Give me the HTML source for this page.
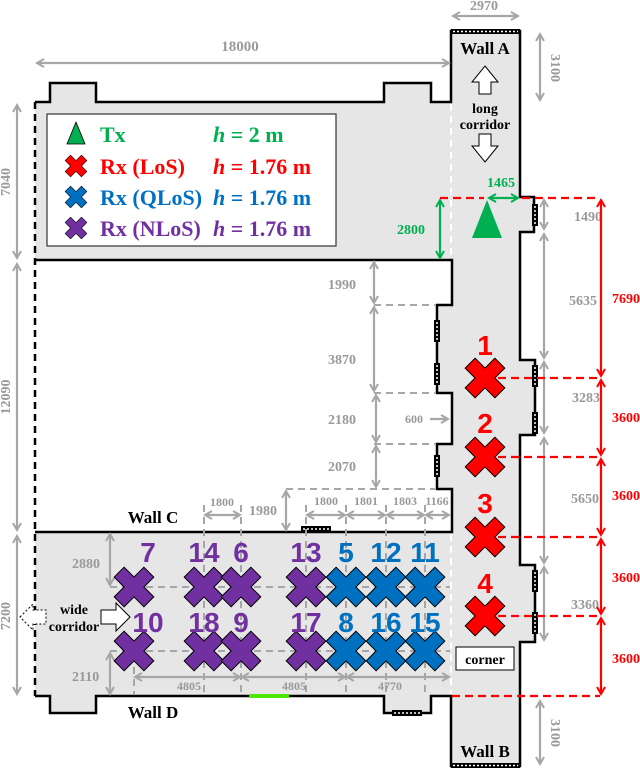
<!DOCTYPE html>
<html><head><meta charset="utf-8"><style>
html,body{margin:0;padding:0;background:#fff;}
svg{display:block;}
.g{font-family:"Liberation Serif",serif;font-weight:bold;fill:#999;font-size:14px;}
.n{font-family:"Liberation Sans",sans-serif;font-weight:bold;font-size:28px;text-anchor:middle;}
.lg{font-family:"Liberation Serif",serif;font-weight:bold;font-size:22px;}
.bk{font-family:"Liberation Serif",serif;font-weight:bold;fill:#000;}
</style></head><body>
<svg width="640" height="769" viewBox="0 0 640 769" xmlns="http://www.w3.org/2000/svg">
<defs>
<marker id="ga" markerWidth="10" markerHeight="10" refX="8" refY="5" orient="auto-start-reverse" markerUnits="userSpaceOnUse"><path d="M1,1 L8,5 L1,9" fill="none" stroke="#a6a6a6" stroke-width="2"/></marker>
<marker id="gr" markerWidth="10" markerHeight="10" refX="8" refY="5" orient="auto-start-reverse" markerUnits="userSpaceOnUse"><path d="M1,1 L8,5 L1,9" fill="none" stroke="#00b050" stroke-width="2"/></marker>
<marker id="rd" markerWidth="10" markerHeight="10" refX="8" refY="5" orient="auto-start-reverse" markerUnits="userSpaceOnUse"><path d="M1,1 L8,5 L1,9" fill="none" stroke="#ff0000" stroke-width="2"/></marker>
<polygon id="x" points="-7,-21 7,-21 7,-7 21,-7 21,7 7,7 7,21 -7,21 -7,7 -21,7 -21,-7 -7,-7" transform="rotate(45)" stroke="#000" stroke-width="1"/>
<g id="hv"><rect x="-3" y="0" width="6" height="22" fill="#000"/><line x1="0" y1="2" x2="0" y2="20" stroke="#fff" stroke-width="1.5" stroke-dasharray="2,2"/></g>
<g id="hh"><rect x="0" y="-3" width="30" height="6" fill="#000"/><line x1="2" y1="0" x2="28" y2="0" stroke="#fff" stroke-width="1.5" stroke-dasharray="2,2"/></g>
</defs>

<g fill="#e6e6e6">
<rect x="35" y="102" width="416" height="158"/>
<rect x="50" y="83" width="46" height="20"/>
<rect x="384" y="83" width="47" height="20"/>
<rect x="451" y="31" width="69" height="735"/>
<rect x="519" y="197" width="15" height="35"/>
<rect x="519" y="360" width="16" height="75"/>
<rect x="519" y="565" width="16" height="77"/>
<rect x="437" y="305" width="15" height="88"/>
<rect x="437" y="444" width="15" height="45"/>
<rect x="35" y="532" width="417" height="164"/>
<rect x="50" y="695" width="46" height="18"/>
<rect x="384" y="695" width="47" height="18"/>
</g>

<path d="M35 102 H50 V83 H96 V102 H384 V83 H431 V102 H451 V31 H520 V197 H534 V232 H520 V360 H535 V435 H520 V565 H535 V642 H520 V766 H451 V696 H431 V713 H384 V696 H96 V713 H50 V696 H35" fill="none" stroke="#000" stroke-width="2.5"/>
<path d="M35 260 H452 V305 H437 V393 H452 V444 H437 V489 H452 V532 H35" fill="none" stroke="#000" stroke-width="2.5"/>
<line x1="35" y1="102" x2="35" y2="696" stroke="#000" stroke-width="2.5" stroke-dasharray="7,5"/>
<line x1="451" y1="104" x2="451" y2="258" stroke="#fff" stroke-width="2" stroke-dasharray="7,5"/>
<line x1="451" y1="534" x2="451" y2="694" stroke="#fff" stroke-width="2" stroke-dasharray="7,5"/>
<rect x="451" y="29" width="69" height="5" fill="#000"/><line x1="453" y1="31.5" x2="518" y2="31.5" stroke="#fff" stroke-width="1.5" stroke-dasharray="2,2"/>
<rect x="451" y="763" width="69" height="5" fill="#000"/><line x1="453" y1="765.5" x2="518" y2="765.5" stroke="#fff" stroke-width="1.5" stroke-dasharray="2,2"/>
<use href="#hh" x="301" y="529"/>
<use href="#hh" x="392" y="713"/>
<use href="#hv" x="535" y="204"/>
<use href="#hv" x="535" y="365"/>
<use href="#hv" x="535" y="412"/>
<use href="#hv" x="535" y="570"/>
<use href="#hv" x="535" y="612"/>
<use href="#hv" x="437" y="320"/>
<use href="#hv" x="437" y="363"/>
<use href="#hv" x="437" y="455"/>
<rect x="249" y="694" width="40" height="4" fill="#4ce600"/>

<text class="bk" x="485" y="54" font-size="17" text-anchor="middle">Wall A</text>
<text class="bk" x="485" y="757" font-size="17" text-anchor="middle">Wall B</text>
<text class="bk" x="153" y="523" font-size="17" text-anchor="middle">Wall C</text>
<text class="bk" x="153" y="718" font-size="17" text-anchor="middle">Wall D</text>

<path d="M485 66 L498 82 L491 82 L491 94 L479 94 L479 82 L472 82 Z" fill="#fff" stroke="#000" stroke-width="1"/>
<text class="bk" x="485" y="113" font-size="14" text-anchor="middle">long</text>
<text class="bk" x="485" y="129" font-size="14" text-anchor="middle">corridor</text>
<path d="M485 162 L498 146 L491 146 L491 134 L479 134 L479 146 L472 146 Z" fill="#fff" stroke="#000" stroke-width="1"/>

<path d="M20 617 L33 604 L33 610 L46 610 L46 624 L33 624 L33 630 Z" fill="#fff" stroke="#000" stroke-width="1" stroke-dasharray="2,2"/>
<text class="bk" x="74" y="614" font-size="14" text-anchor="middle">wide</text>
<text class="bk" x="74" y="631" font-size="14" text-anchor="middle">corridor</text>
<path d="M130 617 L116 603 L116 610 L101 610 L101 624 L116 624 L116 631 Z" fill="#fff" stroke="#000" stroke-width="1"/>
<rect x="456" y="647" width="58" height="23" fill="#fff" stroke="#000" stroke-width="1"/>
<text class="bk" x="485" y="664" font-size="14" text-anchor="middle">corner</text>

<rect x="47" y="114" width="289" height="132" fill="#fff" stroke="#333" stroke-width="1.2"/>
<polygon points="76,122 85,144 67,144" fill="#00b050" stroke="#000" stroke-width="0.8"/>
<use href="#x" x="76" y="166" fill="#ff0000" transform="translate(76 166) scale(0.55) translate(-76 -166)"/>
<use href="#x" x="76" y="197" fill="#0070c0" transform="translate(76 197) scale(0.55) translate(-76 -197)"/>
<use href="#x" x="76" y="228" fill="#7030a0" transform="translate(76 228) scale(0.55) translate(-76 -228)"/>
<text class="lg" x="100" y="142" fill="#00b050">Tx</text>
<text class="lg" x="213" y="142" fill="#00b050"><tspan font-style="italic">h</tspan> = 2 m</text>
<text class="lg" x="100" y="174" fill="#ff0000">Rx (LoS)</text>
<text class="lg" x="213" y="174" fill="#ff0000"><tspan font-style="italic">h</tspan> = 1.76 m</text>
<text class="lg" x="100" y="205" fill="#0070c0">Rx (QLoS)</text>
<text class="lg" x="213" y="205" fill="#0070c0"><tspan font-style="italic">h</tspan> = 1.76 m</text>
<text class="lg" x="100" y="236" fill="#7030a0">Rx (NLoS)</text>
<text class="lg" x="213" y="236" fill="#7030a0"><tspan font-style="italic">h</tspan> = 1.76 m</text>

<g stroke="#a6a6a6" stroke-width="2.2" fill="none">
<line x1="37" y1="63" x2="449" y2="63" marker-start="url(#ga)" marker-end="url(#ga)"/>
<line x1="453" y1="16" x2="518" y2="16" marker-start="url(#ga)" marker-end="url(#ga)"/>
<line x1="540" y1="34" x2="540" y2="100" marker-start="url(#ga)" marker-end="url(#ga)"/>
<line x1="17" y1="105" x2="17" y2="258" marker-start="url(#ga)" marker-end="url(#ga)"/>
<line x1="17" y1="264" x2="17" y2="530" marker-start="url(#ga)" marker-end="url(#ga)"/>
<line x1="17" y1="536" x2="17" y2="694" marker-start="url(#ga)" marker-end="url(#ga)"/>
<line x1="544" y1="200" x2="544" y2="229" marker-start="url(#ga)" marker-end="url(#ga)"/>
<line x1="544" y1="234" x2="544" y2="358" marker-start="url(#ga)" marker-end="url(#ga)"/>
<line x1="544" y1="362" x2="544" y2="433" marker-start="url(#ga)" marker-end="url(#ga)"/>
<line x1="544" y1="438" x2="544" y2="563" marker-start="url(#ga)" marker-end="url(#ga)"/>
<line x1="544" y1="567" x2="544" y2="640" marker-start="url(#ga)" marker-end="url(#ga)"/>
<line x1="540" y1="701" x2="540" y2="764" marker-start="url(#ga)" marker-end="url(#ga)"/>
<line x1="374" y1="262" x2="374" y2="303" marker-start="url(#ga)" marker-end="url(#ga)"/>
<line x1="374" y1="307" x2="374" y2="391" marker-start="url(#ga)" marker-end="url(#ga)"/>
<line x1="376" y1="395" x2="376" y2="442" marker-start="url(#ga)" marker-end="url(#ga)"/>
<line x1="376" y1="446" x2="376" y2="487" marker-start="url(#ga)" marker-end="url(#ga)"/>
<line x1="286" y1="491" x2="286" y2="530" marker-start="url(#ga)" marker-end="url(#ga)"/>
<line x1="430" y1="419" x2="448" y2="419" marker-end="url(#ga)"/>
<line x1="205" y1="515" x2="240" y2="515" marker-start="url(#ga)" marker-end="url(#ga)"/>
<line x1="307" y1="515" x2="345" y2="515" marker-start="url(#ga)" marker-end="url(#ga)"/>
<line x1="347" y1="515" x2="385" y2="515" marker-start="url(#ga)" marker-end="url(#ga)"/>
<line x1="387" y1="515" x2="424" y2="515" marker-start="url(#ga)" marker-end="url(#ga)"/>
<line x1="426" y1="515" x2="449" y2="515" marker-start="url(#ga)" marker-end="url(#ga)"/>
<line x1="110" y1="534" x2="110" y2="585" marker-start="url(#ga)" marker-end="url(#ga)"/>
<line x1="110" y1="653" x2="110" y2="694" marker-start="url(#ga)" marker-end="url(#ga)"/>
<line x1="135" y1="677" x2="240" y2="677" marker-start="url(#ga)" marker-end="url(#ga)"/>
<line x1="242" y1="677" x2="345" y2="677" marker-start="url(#ga)" marker-end="url(#ga)"/>
<line x1="347" y1="677" x2="449" y2="677" marker-start="url(#ga)" marker-end="url(#ga)"/>
</g>
<g stroke="#a6a6a6" stroke-width="2" stroke-dasharray="7,5" fill="none">
<line x1="374" y1="305" x2="435" y2="305"/>
<line x1="374" y1="393" x2="435" y2="393"/>
<line x1="374" y1="444" x2="435" y2="444"/>
<line x1="286" y1="489" x2="435" y2="489"/>
<line x1="110" y1="587" x2="450" y2="587"/>
<line x1="110" y1="651" x2="450" y2="651"/>
<line x1="134" y1="655" x2="134" y2="695"/>
<line x1="204" y1="505" x2="204" y2="695"/>
<line x1="241" y1="505" x2="241" y2="695"/>
<line x1="306" y1="505" x2="306" y2="695"/>
<line x1="346" y1="505" x2="346" y2="695"/>
<line x1="386" y1="505" x2="386" y2="695"/>
<line x1="425" y1="505" x2="425" y2="695"/>
</g>
<g class="g">
<text x="240" y="51" text-anchor="middle" font-size="15">18000</text>
<text x="484" y="10" text-anchor="middle">2970</text>
<text transform="translate(551 68) rotate(90)" text-anchor="middle">3100</text>
<text transform="translate(551 733) rotate(90)" text-anchor="middle">3100</text>
<text transform="translate(10 182) rotate(-90)" text-anchor="middle">7040</text>
<text transform="translate(10 397) rotate(-90)" text-anchor="middle">12090</text>
<text transform="translate(10 616) rotate(-90)" text-anchor="middle">7200</text>
<text x="574" y="221">1490</text>
<text x="569" y="305">5635</text>
<text x="572" y="402">3283</text>
<text x="571" y="503">5650</text>
<text x="571" y="609">3360</text>
<text x="328" y="289">1990</text>
<text x="328" y="364">3870</text>
<text x="328" y="424">2180</text>
<text x="328" y="471">2070</text>
<text x="405" y="423" font-size="12">600</text>
<text x="249" y="515">1980</text>
<text x="222" y="506" text-anchor="middle" font-size="12">1800</text>
<text x="326" y="505" text-anchor="middle" font-size="12">1800</text>
<text x="366" y="505" text-anchor="middle" font-size="12">1801</text>
<text x="405" y="505" text-anchor="middle" font-size="12">1803</text>
<text x="437" y="505" text-anchor="middle" font-size="12">1166</text>
<text x="72" y="568">2880</text>
<text x="72" y="681">2110</text>
<text x="189" y="690" text-anchor="middle" font-size="12">4805</text>
<text x="294" y="690" text-anchor="middle" font-size="12">4805</text>
<text x="390" y="690" text-anchor="middle" font-size="12">4770</text>
</g>

<polygon points="487,200 502,238 472,238" fill="#00b050"/>
<line x1="489" y1="198" x2="518" y2="198" stroke="#00b050" stroke-width="2.2" marker-start="url(#gr)" marker-end="url(#gr)"/>
<line x1="440" y1="200" x2="440" y2="258" stroke="#00b050" stroke-width="2.2" marker-start="url(#gr)" marker-end="url(#gr)"/>
<text class="g" x="501" y="187" text-anchor="middle" style="fill:#00b050">1465</text>
<text class="g" x="397" y="234" style="fill:#00b050">2800</text>

<g stroke="#ff0000" stroke-width="2.2" stroke-dasharray="8,5" fill="none">
<line x1="440" y1="198" x2="484" y2="198"/>
<line x1="522" y1="198" x2="600" y2="198"/>
<line x1="485" y1="378" x2="600" y2="378"/>
<line x1="485" y1="457" x2="600" y2="457"/>
<line x1="485" y1="537" x2="600" y2="537"/>
<line x1="485" y1="616" x2="600" y2="616"/>
<line x1="452" y1="696" x2="600" y2="696"/>
</g>
<g stroke="#ff0000" stroke-width="2.2" fill="none">
<line x1="601" y1="200" x2="601" y2="376" marker-start="url(#rd)" marker-end="url(#rd)"/>
<line x1="601" y1="380" x2="601" y2="455" marker-start="url(#rd)" marker-end="url(#rd)"/>
<line x1="601" y1="459" x2="601" y2="535" marker-start="url(#rd)" marker-end="url(#rd)"/>
<line x1="601" y1="539" x2="601" y2="614" marker-start="url(#rd)" marker-end="url(#rd)"/>
<line x1="601" y1="618" x2="601" y2="694" marker-start="url(#rd)" marker-end="url(#rd)"/>
</g>
<g class="g" style="fill:#ff0000">
<text x="612" y="303">7690</text>
<text x="612" y="422">3600</text>
<text x="612" y="500">3600</text>
<text x="612" y="582">3600</text>
<text x="612" y="663">3600</text>
</g>

<g fill="#ff0000">
<use href="#x" x="485" y="378"/><use href="#x" x="485" y="457"/><use href="#x" x="485" y="537"/><use href="#x" x="485" y="616"/>
</g>
<g class="n" fill="#ff0000">
<text x="485" y="355">1</text><text x="485" y="433">2</text><text x="485" y="513">3</text><text x="485" y="593">4</text>
</g>
<g fill="#7030a0">
<use href="#x" x="134" y="587"/><use href="#x" x="204" y="587"/><use href="#x" x="241" y="587"/><use href="#x" x="306" y="587"/>
<use href="#x" x="134" y="651"/><use href="#x" x="204" y="651"/><use href="#x" x="241" y="651"/><use href="#x" x="306" y="651"/>
</g>
<g fill="#0070c0">
<use href="#x" x="346" y="587"/><use href="#x" x="386" y="587"/><use href="#x" x="425" y="587"/>
<use href="#x" x="346" y="651"/><use href="#x" x="386" y="651"/><use href="#x" x="425" y="651"/>
</g>
<g class="n" fill="#7030a0">
<text x="148" y="562">7</text><text x="204" y="562">14</text><text x="241" y="562">6</text><text x="306" y="562">13</text>
<text x="148" y="632">10</text><text x="204" y="632">18</text><text x="241" y="632">9</text><text x="306" y="632">17</text>
</g>
<g class="n" fill="#0070c0">
<text x="346" y="562">5</text><text x="386" y="562">12</text><text x="425" y="562">11</text>
<text x="346" y="632">8</text><text x="386" y="632">16</text><text x="425" y="632">15</text>
</g>
</svg>
</body></html>
